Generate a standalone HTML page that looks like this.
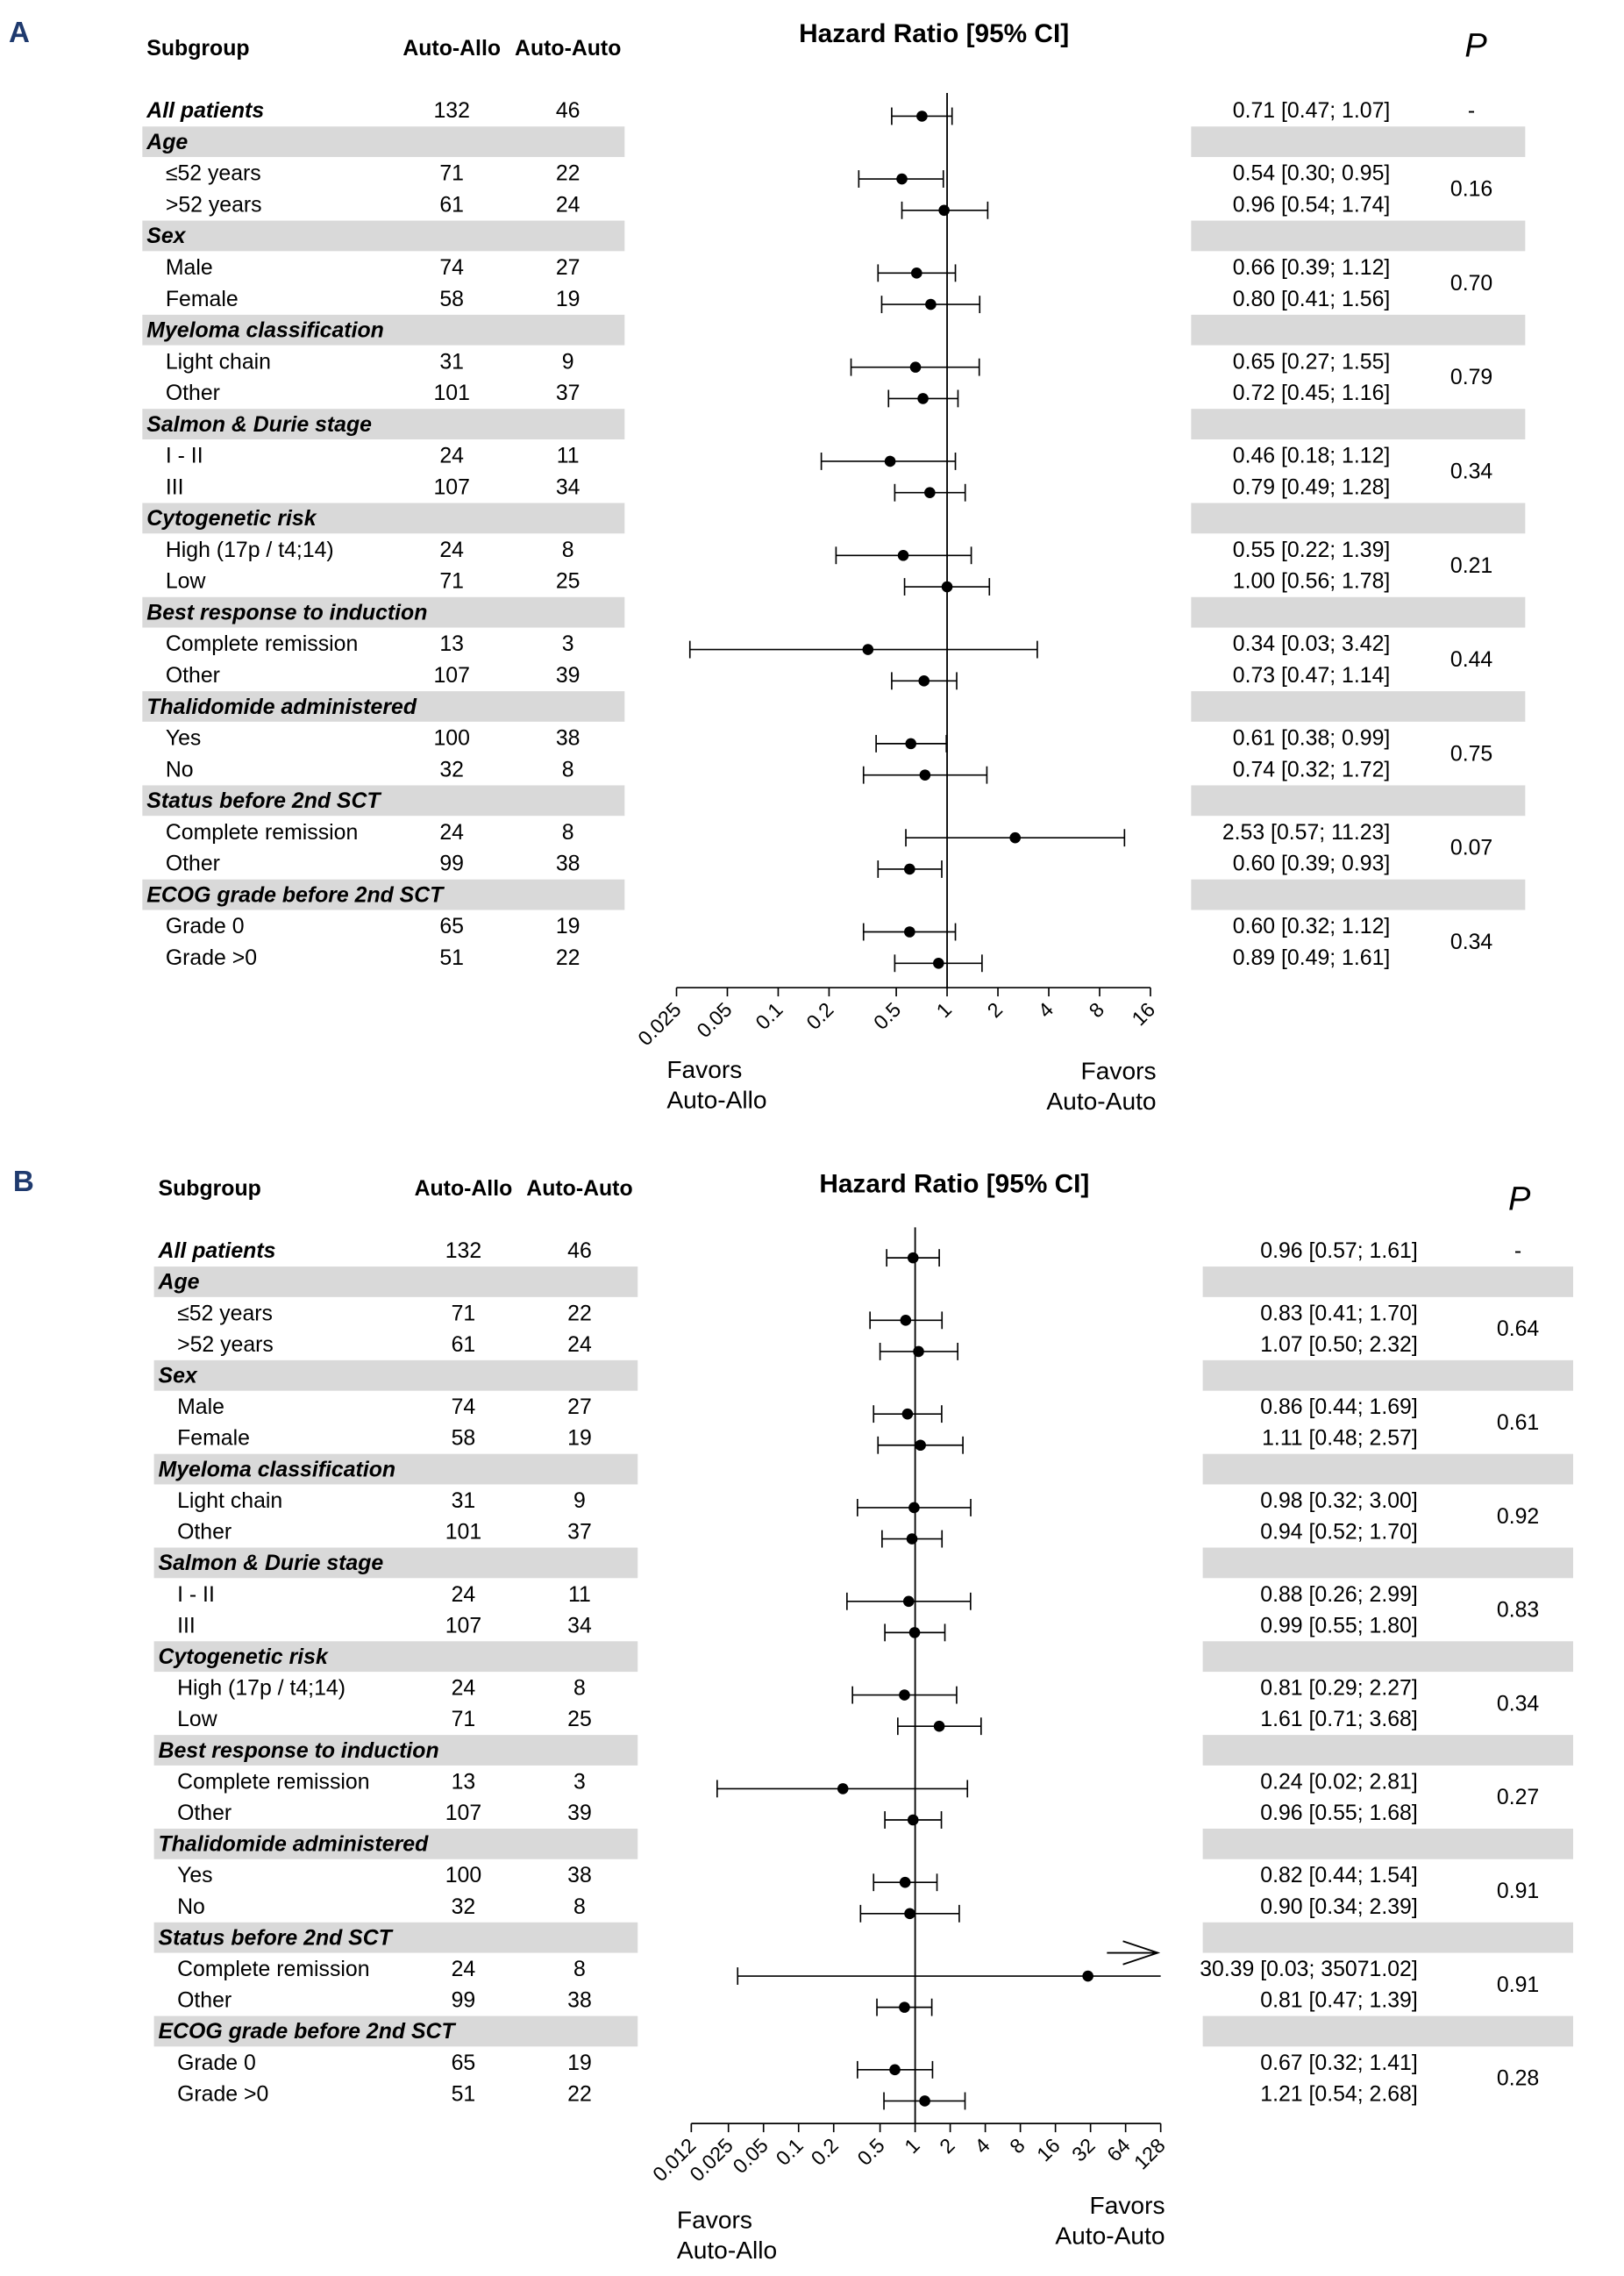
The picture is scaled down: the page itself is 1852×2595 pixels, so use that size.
<!DOCTYPE html>
<html><head><meta charset="utf-8"><style>
html,body{margin:0;padding:0;background:#fff;}
svg{display:block;font-family:"Liberation Sans",Arial,sans-serif;}
</style></head><body>
<svg id="fig" width="1852" height="2595" viewBox="0 0 1118 1567" preserveAspectRatio="none" xmlns="http://www.w3.org/2000/svg"></svg>
<script>
// shared row structure
const rowLabels = ["All patients","Age","≤52 years",">52 years","Sex","Male","Female","Myeloma classification","Light chain","Other","Salmon & Durie stage","I - II","III","Cytogenetic risk","High (17p / t4;14)","Low","Best response to induction","Complete remission","Other","Thalidomide administered","Yes","No","Status before 2nd SCT","Complete remission","Other","ECOG grade before 2nd SCT","Grade 0","Grade >0"];
const rowIsHeader = [0,1,0,0,1,0,0,1,0,0,1,0,0,1,0,0,1,0,0,1,0,0,1,0,0,1,0,0];
const nAutoAllo = [132,null,71,61,null,74,58,null,31,101,null,24,107,null,24,71,null,13,107,null,100,32,null,24,99,null,65,51];
const nAutoAuto = [46,null,22,24,null,27,19,null,9,37,null,11,34,null,8,25,null,3,39,null,38,8,null,8,38,null,19,22];
// panel A values
const hrA = [0.71,null,0.54,0.96,null,0.66,0.80,null,0.65,0.72,null,0.46,0.79,null,0.55,1.00,null,0.34,0.73,null,0.61,0.74,null,2.53,0.60,null,0.60,0.89];
const loA = [0.47,null,0.30,0.54,null,0.39,0.41,null,0.27,0.45,null,0.18,0.49,null,0.22,0.56,null,0.03,0.47,null,0.38,0.32,null,0.57,0.39,null,0.32,0.49];
const hiA = [1.07,null,0.95,1.74,null,1.12,1.56,null,1.55,1.16,null,1.12,1.28,null,1.39,1.78,null,3.42,1.14,null,0.99,1.72,null,11.23,0.93,null,1.12,1.61];
const pA = ["0.16","0.70","0.79","0.34","0.21","0.44","0.75","0.07","0.34"];
const tickValA = [0.025,0.05,0.1,0.2,0.5,1,2,4,8,16];
const tickLabA = ["0.025","0.05","0.1","0.2","0.5","1","2","4","8","16"];
// panel B values
const hrB = [0.96,null,0.83,1.07,null,0.86,1.11,null,0.98,0.94,null,0.88,0.99,null,0.81,1.61,null,0.24,0.96,null,0.82,0.90,null,30.39,0.81,null,0.67,1.21];
const loB = [0.57,null,0.41,0.50,null,0.44,0.48,null,0.32,0.52,null,0.26,0.55,null,0.29,0.71,null,0.02,0.55,null,0.44,0.34,null,0.03,0.47,null,0.32,0.54];
const hiB = [1.61,null,1.70,2.32,null,1.69,2.57,null,3.00,1.70,null,2.99,1.80,null,2.27,3.68,null,2.81,1.68,null,1.54,2.39,null,35071.02,1.39,null,1.41,2.68];
const pB = ["0.64","0.61","0.92","0.83","0.34","0.27","0.91","0.91","0.28"];
const tickValB = [0.012,0.025,0.05,0.1,0.2,0.5,1,2,4,8,16,32,64,128];
const tickLabB = ["0.012","0.025","0.05","0.1","0.2","0.5","1","2","4","8","16","32","64","128"];

const NS="http://www.w3.org/2000/svg";
const svg=document.getElementById('fig');
function mk(tag,attrs,parent,text){const e=document.createElementNS(NS,tag);for(const k in attrs)e.setAttribute(k,attrs[k]);if(text!==undefined)e.textContent=text;(parent||svg).appendChild(e);return e;}
function fmt(v){return v.toFixed(2);}

function panel(c,hr,lo,hi,pv,tVal,tLab){
  const g=mk('g',{});
  
  
  const xs=v=>c.x1+Math.log2(v)*c.ppo;
  const ry=i=>c.y0+c.dy*i;
  const L=mk('text',{x:c.lx,y:c.ly,'font-size':20,'font-weight':'bold',fill:'#1f3a6e'},g,c.letter);
  
  
  let t;
  t=mk('text',{x:c.subX,y:c.hy,'font-size':15,'font-weight':'bold'},g,'Subgroup');
  
  t=mk('text',{x:c.n1X,y:c.hy,'font-size':15,'font-weight':'bold','text-anchor':'middle'},g,'Auto-Allo');
  
  t=mk('text',{x:c.n2X,y:c.hy,'font-size':15,'font-weight':'bold','text-anchor':'middle'},g,'Auto-Auto');
  
  t=mk('text',{x:c.titleX,y:c.titleY,'font-size':18,'font-weight':'bold','text-anchor':'middle'},g,'Hazard Ratio [95% CI]');
  
  t=mk('text',{x:c.pX,y:c.pY,'font-size':23,'font-style':'italic','text-anchor':'middle'},g,'P');
  
  rowLabels.forEach((lab,i)=>{
    if(rowIsHeader[i]){
      let b=mk('rect',{x:c.bandL[0],y:ry(i)-10.5,width:c.bandL[1]-c.bandL[0],height:21,fill:'#d9d9d9'},g);
      
      b=mk('rect',{x:c.bandR[0],y:ry(i)-10.5,width:c.bandR[1]-c.bandR[0],height:21,fill:'#d9d9d9'},g);
      
    }
  });
  let rl=mk('line',{x1:xs(1),x2:xs(1),y1:c.refTop,y2:c.axisY,stroke:'#000','stroke-width':1.1},g);
  
  let pi=0;
  const xmax=xs(tVal[tVal.length-1]);
  rowLabels.forEach((lab,i)=>{
    const y=ry(i);
    const hdr=rowIsHeader[i]||i===0;
    const tl=mk('text',{x:hdr?c.subX:c.subX+13,y:y+5,'font-size':15,'font-weight':hdr?'bold':'normal','font-style':hdr?'italic':'normal'},g,lab);
    
    
    if(rowIsHeader[i])return;
    let a=mk('text',{x:c.n1X,y:y+5,'font-size':15,'text-anchor':'middle'},g,nAutoAllo[i]);
    
    a=mk('text',{x:c.n2X,y:y+5,'font-size':15,'text-anchor':'middle'},g,nAutoAuto[i]);
    
    a=mk('text',{x:c.hrX,y:y+5,'font-size':15,'text-anchor':'end'},g,fmt(hr[i])+' ['+fmt(lo[i])+'; '+fmt(hi[i])+']');
    
    const py=y+c.ptOff;
    const clipped=xs(hi[i])>xmax;
    const xl=xs(lo[i]),xh=Math.min(xs(hi[i]),xmax);
    const ci=mk('line',{x1:xl,x2:xh,y1:py,y2:py,stroke:'#000','stroke-width':1},g);
    
    let cap=mk('line',{x1:xl,x2:xl,y1:py-6,y2:py+6,stroke:'#000','stroke-width':1},g);
    
    if(!clipped){
      cap=mk('line',{x1:xh,x2:xh,y1:py-6,y2:py+6,stroke:'#000','stroke-width':1},g);
      
    }else{
      const ay=py-16;
      const ar=mk('path',{d:`M${xmax-37},${ay} L${xmax-2},${ay} M${xmax-26},${ay-8} L${xmax-2},${ay} L${xmax-26},${ay+8}`,stroke:'#000','stroke-width':1.1,fill:'none'},g);
      
    }
    const d=mk('circle',{cx:xs(hr[i]),cy:py,r:3.8,fill:'#000'},g);
    
    if(i===0){
      const p=mk('text',{x:c.pvX,y:y+5,'font-size':15,'text-anchor':'middle'},g,'-');
      
    } else if(rowIsHeader[i-1]){
      const p=mk('text',{x:c.pvX,y:y+c.dy/2+5,'font-size':15,'text-anchor':'middle'},g,pv[pi++]);
      
    }
  });
  const x0=xs(tVal[0]);
  const ax=mk('line',{x1:x0,x2:xmax,y1:c.axisY,y2:c.axisY,stroke:'#000','stroke-width':1},g);
  
  tVal.forEach((v,k)=>{
    const x=xs(v);
    const tk=mk('line',{x1:x,x2:x,y1:c.axisY,y2:c.axisY+6,stroke:'#000','stroke-width':1},g);
    
    const tx=mk('text',{x:x+4,y:c.axisY+16,'font-size':14,'text-anchor':'end',transform:`rotate(-45 ${x+4} ${c.axisY+16})`},g,tLab[k]);
    
  });
  [[c.favL,'start','Favors','Auto-Allo','favors-auto-allo-label'],[c.favR,'end','Favors','Auto-Auto','favors-auto-auto-label']].forEach(f=>{
    const tt=mk('text',{x:f[0][0],y:f[0][1],'font-size':17,'text-anchor':f[1]},g);
    
    mk('tspan',{x:f[0][0]},tt,f[2]);
    mk('tspan',{x:f[0][0],dy:21},tt,f[3]);
  });
}

panel({letter:'A',lx:6,ly:29,subX:101,n1X:311,n2X:391,hy:38,titleX:643,titleY:29,pX:1016,pY:39,
  y0:76,dy:21.6,ptOff:4,bandL:[98,430],bandR:[820,1050],hrX:957,pvX:1013,
  x1:652,ppo:35.0,refTop:64,axisY:680,favL:[459,742],favR:[796,743]},hrA,loA,hiA,pA,tickValA,tickLabA);
panel({letter:'B',lx:9,ly:820,subX:109,n1X:319,n2X:399,hy:823,titleX:657,titleY:821,pX:1046,pY:833,
  y0:861,dy:21.5,ptOff:5,bandL:[106,439],bandR:[828,1083],hrX:976,pvX:1045,
  x1:630,ppo:24.15,refTop:845,axisY:1462,favL:[466,1534],favR:[802,1524]},hrB,loB,hiB,pB,tickValB,tickLabB);
</script>
</body></html>
